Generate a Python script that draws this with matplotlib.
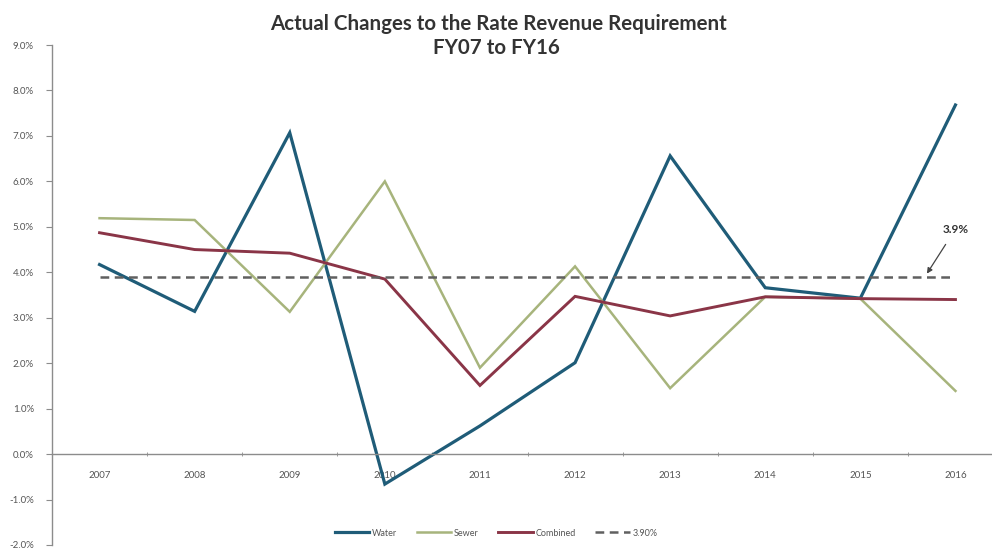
"""Year-over-year changes to the rate revenue requirement, FY07-FY16."""
import numpy as np
import matplotlib

matplotlib.use("Agg")
import matplotlib.pyplot as plt  # noqa: E402
from matplotlib.ticker import FuncFormatter, FixedLocator  # noqa: E402

years = ["2007", "2008", "2009", "2010", "2011", "2012", "2013", "2014", "2015", "2016"]
water = [4.17, 3.14, 7.07, -0.66, 0.62, 2.01, 6.56, 3.66, 3.43, 7.68]
sewer = [5.19, 5.15, 3.13, 6.00, 1.90, 4.13, 1.45, 3.46, 3.42, 1.39]
combined = [4.87, 4.50, 4.42, 3.85, 1.51, 3.47, 3.04, 3.46, 3.42, 3.40]
target = 3.90

plt.rcParams["font.family"] = ["Lato", "DejaVu Sans"]

fig = plt.figure(figsize=(9.92, 5.51), dpi=100)
ax = fig.add_axes([52 / 992, 1 - 545 / 551, (1003 - 52) / 992, (545 - 45) / 551])

x = np.arange(len(years))
ax.plot(x, water, color="#1f5c78", lw=2.3, label="Water", solid_joinstyle="miter")
ax.plot(x, sewer, color="#a7b47c", lw=1.8, label="Sewer", solid_joinstyle="miter")
ax.plot(x, combined, color="#8a3547", lw=2.1, label="Combined", solid_joinstyle="miter")
ax.plot(x, [target] * len(x), color="#606060", lw=1.8, ls=(0, (3.5, 2.2)),
        label=f"{target:.2f}%")

ax.set_xlim(-0.5, len(years) - 0.5)
ax.set_ylim(-2, 9)

# category axis sits on the zero line, ticks between categories
ax.spines["bottom"].set_position(("data", 0))
for side in ("top", "right"):
    ax.spines[side].set_visible(False)
for side in ("left", "bottom"):
    ax.spines[side].set_color("#8c8c8c")
    ax.spines[side].set_linewidth(1.0)

ax.set_xticks(x)
ax.set_xticklabels(years)
ax.xaxis.set_minor_locator(FixedLocator(np.arange(0.5, len(years) - 0.5, 1)))
ax.tick_params(axis="x", which="major", length=0, pad=12, labelsize=7, labelcolor="#555555")
ax.tick_params(axis="x", which="minor", length=3, direction="inout", color="#8c8c8c")

ax.set_yticks(np.arange(-2, 9.5, 1))
ax.yaxis.set_major_formatter(FuncFormatter(lambda v, _: f"{v:.1f}%"))
ax.tick_params(axis="y", length=4, color="#8c8c8c", labelsize=7, labelcolor="#555555", pad=9)

ax.annotate("3.9%", xy=(8.7, 3.97), xytext=(9.0, 4.95), ha="center", va="center",
            fontsize=8.5, fontweight="bold", color="#333333",
            arrowprops=dict(arrowstyle="-|>", color="#444444", lw=0.9,
                            mutation_scale=8, shrinkA=6, shrinkB=0))

fig.text(0.503, 0.957, "Actual Changes to the Rate Revenue Requirement",
         ha="center", va="center", fontsize=14.8, fontweight="bold", color="#333333")
fig.text(0.5, 0.913, "FY07 to FY16", ha="center", va="center",
         fontsize=14.8, fontweight="bold", color="#333333")

fig.legend(loc="center", bbox_to_anchor=(0.5, 1 - 533 / 551), ncol=4, frameon=False,
           fontsize=6.5, handlelength=3.8, handletextpad=0.3, columnspacing=2.2,
           labelcolor="#555555")

fig.savefig("out.png", dpi=100, facecolor="white")
